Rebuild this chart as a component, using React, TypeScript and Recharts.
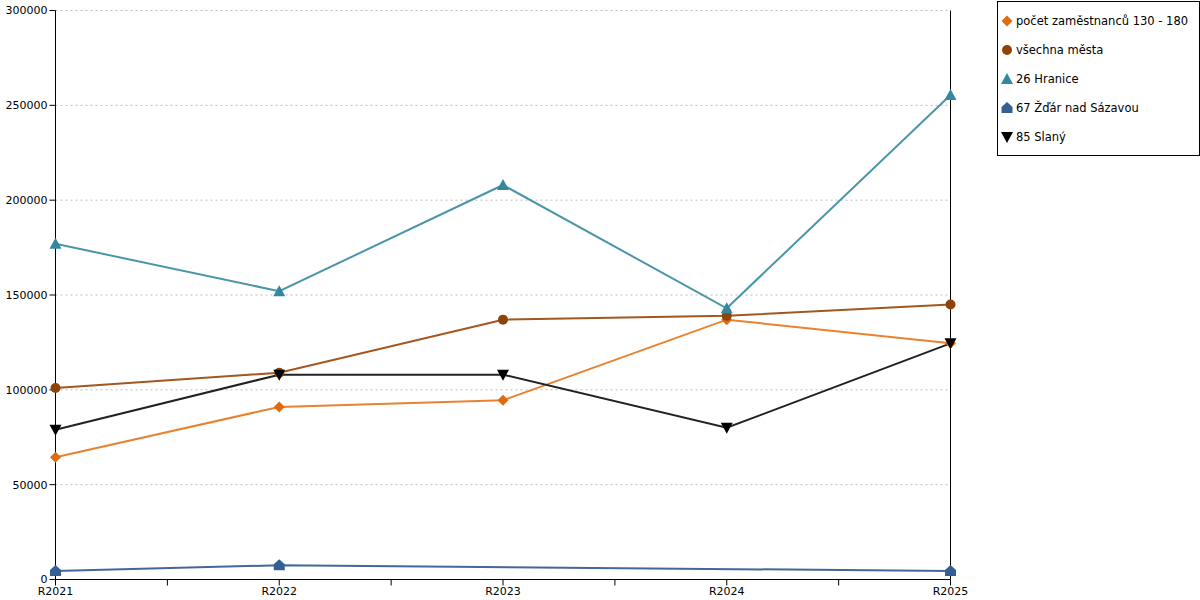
import React from "react"
import { CartesianGrid, Line, LineChart, ReferenceLine, XAxis, YAxis } from "recharts"

const categories = ["R2021", "R2022", "R2023", "R2024", "R2025"]
const pocetZamestnancu = [64500, 91000, 94500, 137000, 124500]
const vsechnaMesta = [101000, 109000, 137000, 139000, 145000]
const hranice = [177000, 152000, 208000, 143000, 255500]
const zdar = [4500, 7500, null, null, 4500]
const slany = [79000, 108000, 108000, 80000, 124500]

const xTicks = [0, 0.5, 1, 1.5, 2, 2.5, 3, 3.5, 4]
const yTicks = [0, 50000, 100000, 150000, 200000, 250000, 300000]

const data = categories.map((c, i) => ({
    x: i,
    label: c,
    pocet: pocetZamestnancu[i],
    vsechna: vsechnaMesta[i],
    hranice: hranice[i],
    zdar: zdar[i],
    slany: slany[i],
}))

type Shape = "diamond" | "circle" | "triangle" | "house" | "down"

const Marker = ({ shape, x, y, fill }: { shape: Shape; x: number; y: number; fill: string }) => {
    if (shape === "circle") return <circle cx={x} cy={y} r={5} fill={fill} />
    if (shape === "diamond")
        return <path d={`M${x},${y - 5.5}L${x + 5.5},${y}L${x},${y + 5.5}L${x - 5.5},${y}Z`} fill={fill} />
    if (shape === "triangle")
        return <path d={`M${x},${y - 6}L${x + 6},${y + 5}L${x - 6},${y + 5}Z`} fill={fill} />
    if (shape === "house")
        return <path d={`M${x},${y - 6}L${x + 5.5},${y - 1}L${x + 5.5},${y + 5}L${x - 5.5},${y + 5}L${x - 5.5},${y - 1}Z`} fill={fill} />
    return <path d={`M${x - 6},${y - 5}L${x + 6},${y - 5}L${x},${y + 6}Z`} fill={fill} />
}

const series = [
    { key: "pocet", name: "počet zaměstnanců 130 - 180", line: "#e8822e", marker: "#e06a10", shape: "diamond" as Shape },
    { key: "vsechna", name: "všechna města", line: "#a4561e", marker: "#8e4308", shape: "circle" as Shape },
    { key: "hranice", name: "26 Hranice", line: "#4a95aa", marker: "#33889f", shape: "triangle" as Shape },
    { key: "zdar", name: "67 Žďár nad Sázavou", line: "#41689a", marker: "#335f94", shape: "house" as Shape },
    { key: "slany", name: "85 Slaný", line: "#222222", marker: "#000000", shape: "down" as Shape },
]

const LegendBox = () => (
    <div
        style={{
            position: "absolute",
            left: 997,
            top: 1,
            border: "1px solid #000",
            width: 203,
            height: 155,
            boxSizing: "border-box",
            paddingTop: 4,
            fontFamily: "DejaVu Sans",
            fontSize: 11.5,
            color: "#000",
            background: "#fff",
            whiteSpace: "nowrap",
        }}
    >
        {series.map((s) => (
            <div key={s.key} style={{ display: "flex", alignItems: "center", height: 29 }}>
                <svg width={18} height={16}>
                    <Marker shape={s.shape} x={9} y={8} fill={s.marker} />
                </svg>
                <span>{s.name}</span>
            </div>
        ))}
    </div>
)

export default function App() {
    return (
        <div style={{ position: "absolute", left: 0, top: 0, width: 1200, height: 600, background: "#fff" }}>
            <LineChart width={1200} height={600} data={data} margin={{ top: 10.5, right: 249.5, bottom: -0.5, left: 0.5 }}>
                <CartesianGrid vertical={false} stroke="#bbbbbb" strokeDasharray="2 3" />
                <XAxis
                    dataKey="x"
                    type="number"
                    domain={[0, 4]}
                    ticks={xTicks}
                    tickFormatter={(v: number) => (Number.isInteger(v) ? categories[v] : "")}
                    height={21}
                    axisLine={{ stroke: "#000" }}
                    tickLine={{ stroke: "#000" }}
                    tick={{ fill: "#000", fontSize: 11, fontFamily: "DejaVu Sans" }}
                    interval={0}
                />
                <YAxis
                    domain={[0, 300000]}
                    ticks={yTicks}
                    width={55}
                    axisLine={{ stroke: "#000" }}
                    tickLine={{ stroke: "#000" }}
                    tick={{ fill: "#000", fontSize: 11, fontFamily: "DejaVu Sans" }}
                    tickMargin={2}
                    interval={0}
                />
                <ReferenceLine x={4} stroke="#000" strokeOpacity={1} />
                {series.map((s) => (
                    <Line
                        key={s.key}
                        dataKey={s.key}
                        name={s.name}
                        stroke={s.line}
                        strokeWidth={2}
                        connectNulls
                        isAnimationActive={false}
                        activeDot={false}
                        dot={(p: any) =>
                            p.value == null ? <g key={p.index} /> : (
                                <g key={p.index}>
                                    <Marker shape={s.shape} x={p.cx} y={p.cy} fill={s.marker} />
                                </g>
                            )
                        }
                    />
                ))}
            </LineChart>
            <LegendBox />
        </div>
    )
}
